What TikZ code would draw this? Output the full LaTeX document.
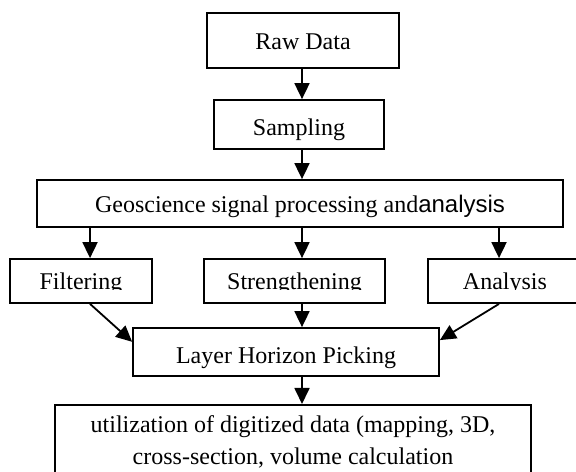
\documentclass[tikz,border=0pt]{standalone}
\usepackage{fontspec}
\setmainfont{Liberation Serif}
\newfontfamily\arialfont{Liberation Sans}
\usepackage{trimclip}
\usetikzlibrary{arrows.meta,calc}

% text whose descenders are cut off at the baseline
\newcommand{\cutdesc}[1]{\clipbox{0pt {\depth} 0pt 0pt}{#1}}

\begin{document}
\begin{tikzpicture}[
    box/.style={draw, line width=0.9pt, inner sep=1pt, align=center, font=\fontsize{12}{14}\selectfont, text height=9.5pt, text depth=1pt},
    arr/.style={-{Triangle[length=8pt, width=7.5pt]}, line width=0.9pt}
]
\useasboundingbox (0,0) rectangle (10.122,-8.294);

\node[box, minimum width=3.374cm, minimum height=0.967cm] (raw) at (5.325,-0.712) {Raw Data};
\node[box, minimum width=2.987cm, minimum height=0.861cm, text height=12.4pt] (samp) at (5.254,-2.188) {Sampling};
\node[box, minimum width=9.243cm, minimum height=0.826cm] (geo) at (5.272,-3.576) {Geoscience signal processing and{\arialfont analysis}};
\node[box, minimum width=2.495cm, minimum height=0.773cm] (filt) at (1.423,-4.938) {\cutdesc{Filtering}};
\node[box, minimum width=3.181cm, minimum height=0.773cm] (str) at (5.175,-4.938) {\cutdesc{Strengthening}};
\node[box, minimum width=2.706cm, minimum height=0.773cm] (ana) at (8.874,-4.938) {\cutdesc{Analysis}};
\node[box, minimum width=5.377cm, minimum height=0.844cm, text height=12pt] (layer) at (5.026,-6.186) {Layer Horizon Picking};
\node[draw, line width=0.9pt, inner xsep=2pt, inner ysep=5.3pt, align=center, font=\fontsize{12}{16}\selectfont, minimum width=8.365cm, anchor=north] (use) at (5.149,-7.099)
    {utilization of digitized data (mapping, 3D,\\cross-section, volume calculation};

\coordinate (spine) at (5.307,0);
\coordinate (lft) at (1.582,0);
\coordinate (rgt) at (8.769,0);
\coordinate (lin) at ($(layer.west)+(0,0.18)$);
\coordinate (rin) at ($(layer.east)+(0,0.21)$);

\draw[arr] (spine |- raw.south) -- (spine |- samp.north);
\draw[arr] (spine |- samp.south) -- (spine |- geo.north);
\draw[arr] (lft |- geo.south) -- (lft |- filt.north);
\draw[arr] (spine |- geo.south) -- (spine |- str.north);
\draw[arr] (rgt |- geo.south) -- (rgt |- ana.north);
\draw[arr] (lft |- filt.south) -- (lin);
\draw[arr] (spine |- str.south) -- (spine |- layer.north);
\draw[arr] (rgt |- ana.south) -- (rin);
\draw[arr] (spine |- layer.south) -- (spine |- use.north);
\end{tikzpicture}
\end{document}
